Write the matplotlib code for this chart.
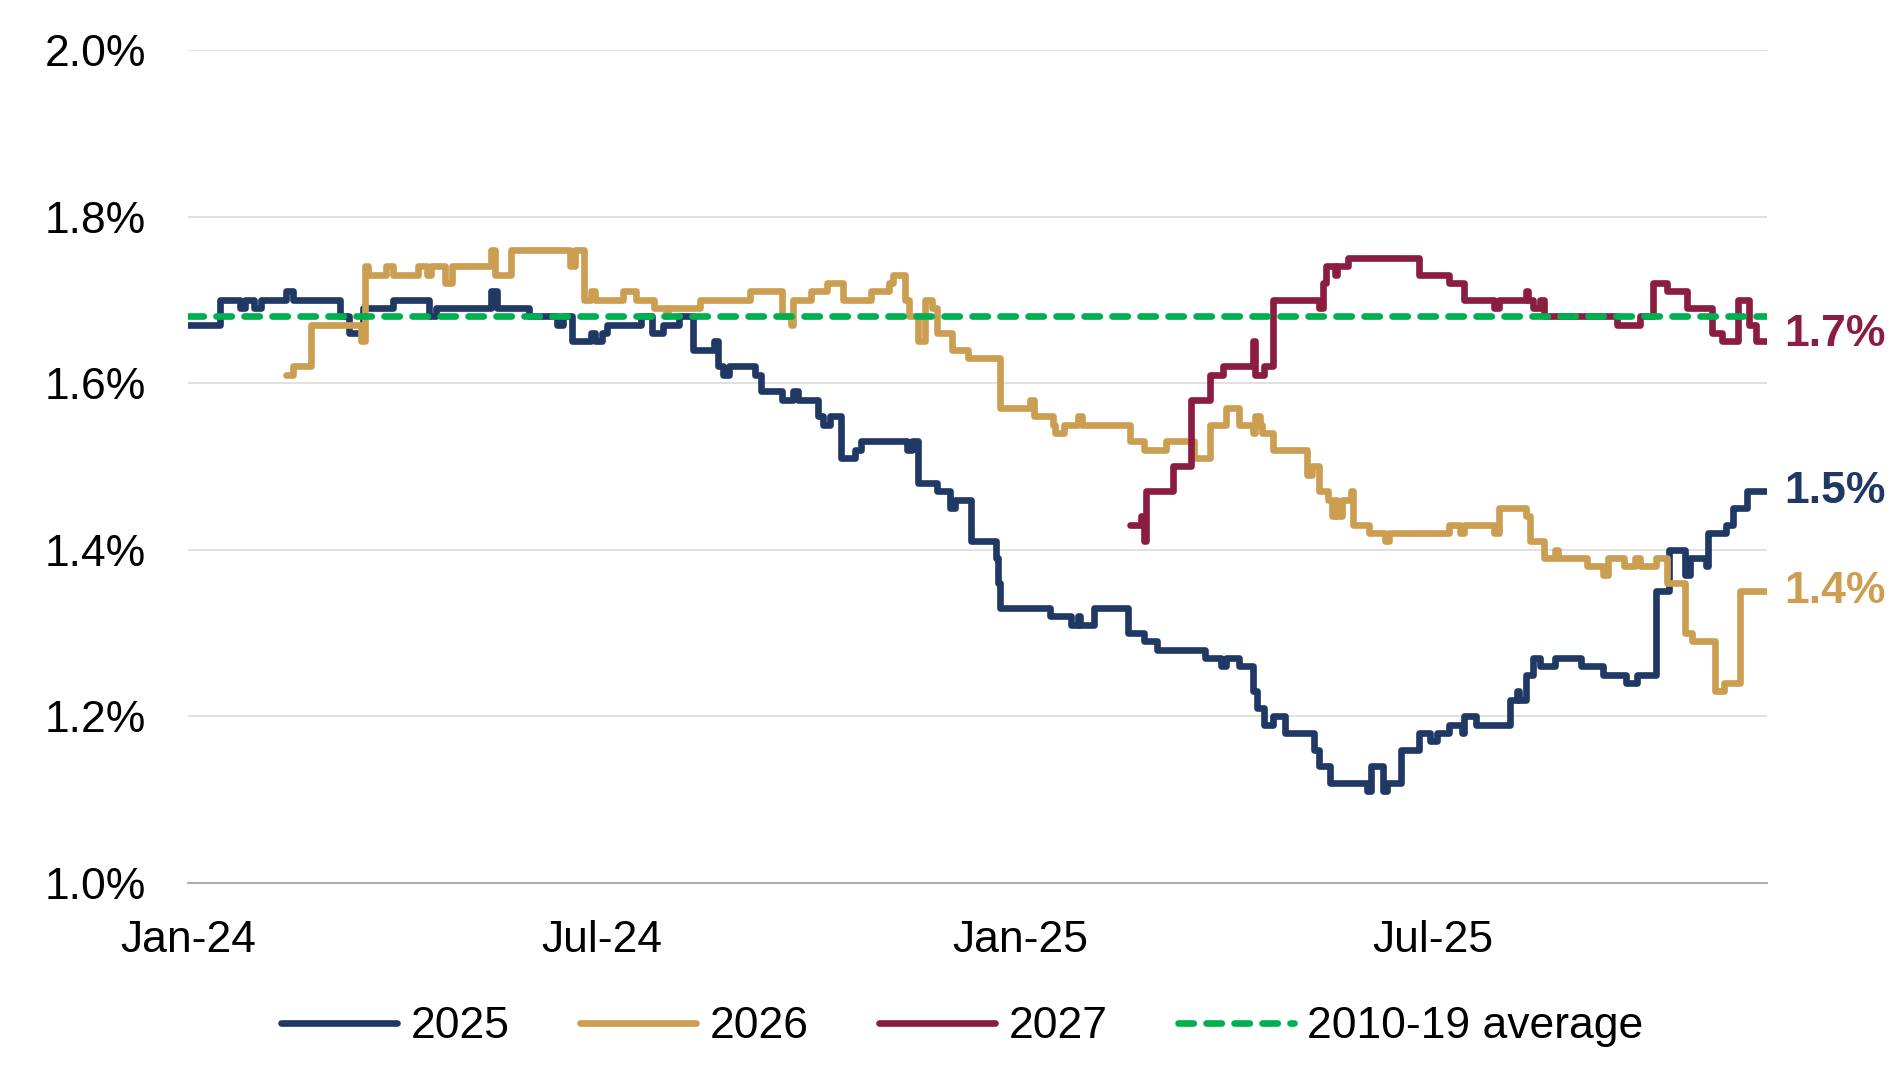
import matplotlib
matplotlib.use("Agg")
import matplotlib.pyplot as plt
import matplotlib.dates as mdates
import pandas as pd

plt.rcParams['font.family'] = ['Liberation Sans', 'DejaVu Sans']

# days after 1 Jan 2024 where each series changes level, and the new level (%)
days_2025 = [0, 14, 23, 25, 29, 32, 43, 46, 67, 71, 77, 90, 106, 109, 133, 136, 150, 162, 165, 169,
             177, 179, 182, 184, 199, 204, 209, 216, 222, 231, 233, 235, 238, 249, 252, 261, 266, 268,
             277, 279, 282, 287, 293, 296, 316, 318, 321, 329, 335, 337, 344, 355, 356, 357, 379, 388,
             391, 392, 398, 413, 420, 426, 447, 454, 456, 462, 468, 470, 473, 477, 482, 495, 497, 502,
             518, 520, 525, 527, 533, 541, 546, 549, 554, 560, 561, 566, 581, 584, 585, 588, 591, 594,
             601, 612, 622, 632, 637, 645, 651, 658, 660, 667, 668, 676, 679, 685, 694]
vals_2025 = [1.67, 1.70, 1.69, 1.70, 1.69, 1.70, 1.71, 1.70, 1.68, 1.66, 1.69, 1.70, 1.68, 1.69, 1.71,
             1.69, 1.68, 1.67, 1.68, 1.65, 1.66, 1.65, 1.66, 1.67, 1.68, 1.66, 1.67, 1.68, 1.64, 1.65,
             1.62, 1.61, 1.62, 1.61, 1.59, 1.58, 1.59, 1.58, 1.56, 1.55, 1.56, 1.51, 1.52, 1.53, 1.52,
             1.53, 1.48, 1.47, 1.45, 1.46, 1.41, 1.39, 1.36, 1.33, 1.32, 1.31, 1.32, 1.31, 1.33, 1.30,
             1.29, 1.28, 1.27, 1.26, 1.27, 1.26, 1.23, 1.21, 1.19, 1.20, 1.18, 1.16, 1.14, 1.12, 1.11,
             1.14, 1.11, 1.12, 1.16, 1.18, 1.17, 1.18, 1.19, 1.18, 1.20, 1.19, 1.22, 1.23, 1.22, 1.25,
             1.27, 1.26, 1.27, 1.26, 1.25, 1.24, 1.25, 1.35, 1.40, 1.37, 1.39, 1.38, 1.42, 1.43, 1.45,
             1.47, 1.47]

days_2026 = [43, 46, 54, 76, 78, 79, 87, 90, 101, 105, 107, 113, 116, 133, 135, 142, 168, 170, 174,
             177, 179, 191, 197, 205, 210, 211, 225, 247, 261, 265, 266, 274, 281, 288, 300, 308, 310,
             315, 317, 321, 324, 327, 329, 336, 343, 357, 370, 372, 380, 381, 385, 391, 393, 414, 420,
             430, 442, 449, 456, 462, 468, 469, 471, 472, 477, 492, 494, 497, 501, 503, 504, 505, 507,
             511, 512, 519, 526, 528, 554, 559, 561, 574, 576, 588, 590, 596, 601, 602, 615, 622, 624,
             631, 636, 638, 645, 650, 658, 661, 671, 675, 682, 694]
vals_2026 = [1.61, 1.62, 1.67, 1.65, 1.74, 1.73, 1.74, 1.73, 1.74, 1.73, 1.74, 1.72, 1.74, 1.76, 1.73,
             1.76, 1.74, 1.76, 1.70, 1.71, 1.70, 1.71, 1.70, 1.69, 1.68, 1.69, 1.70, 1.71, 1.68, 1.67,
             1.70, 1.71, 1.72, 1.70, 1.71, 1.72, 1.73, 1.70, 1.68, 1.65, 1.70, 1.69, 1.66, 1.64, 1.63,
             1.57, 1.58, 1.56, 1.55, 1.54, 1.55, 1.56, 1.55, 1.53, 1.52, 1.53, 1.51, 1.55, 1.57, 1.55,
             1.54, 1.56, 1.55, 1.54, 1.52, 1.49, 1.50, 1.47, 1.46, 1.44, 1.46, 1.44, 1.46, 1.47, 1.43,
             1.42, 1.41, 1.42, 1.43, 1.42, 1.43, 1.42, 1.45, 1.44, 1.41, 1.39, 1.40, 1.39, 1.38, 1.37,
             1.39, 1.38, 1.39, 1.38, 1.39, 1.36, 1.30, 1.29, 1.23, 1.24, 1.35, 1.35]

days_2027 = [414, 419, 420, 421, 433, 441, 449, 455, 468, 469, 473, 477, 497, 499, 500, 504, 505, 510,
             541, 554, 561, 574, 576, 588, 589, 591, 594, 596, 628, 638, 644, 650, 659, 670, 674, 681,
             686, 689, 694]
vals_2027 = [1.43, 1.44, 1.41, 1.47, 1.50, 1.58, 1.61, 1.62, 1.65, 1.61, 1.62, 1.70, 1.69, 1.72, 1.74,
             1.73, 1.74, 1.75, 1.73, 1.72, 1.70, 1.69, 1.70, 1.71, 1.70, 1.69, 1.70, 1.68, 1.67, 1.68,
             1.72, 1.71, 1.69, 1.66, 1.65, 1.70, 1.67, 1.65, 1.65]

avg_2010_19 = 1.68
end_labels = ['1.5%', '1.4%', '1.7%']
xtick_dates = ['2024-01-01', '2024-07-01', '2025-01-01', '2025-07-01']

start = pd.Timestamp('2024-01-01')


def to_dates(days):
    return start + pd.to_timedelta(days, unit='D')


series = [
    ('2025', days_2025, vals_2025, '#1f3864'),
    ('2026', days_2026, vals_2026, '#cc9e52'),
    ('2027', days_2027, vals_2027, '#8b1e40'),
]

fig = plt.figure(figsize=(19.04, 10.9), dpi=100)
ax = fig.add_axes([0.0987, 0.19, 0.8294, 0.7642])

lw = 4.8
for name, d, v, c in series:
    ax.plot(to_dates(d), v, color=c, lw=lw, drawstyle='steps-post',
            solid_joinstyle='round', solid_capstyle='round', label=name)

x0 = start
x1 = to_dates([days_2025[-1]])[0]
ax.plot([x0, x1], [avg_2010_19, avg_2010_19], color='#00b050', lw=lw,
        dashes=(2.3, 1.9), dash_capstyle='round', label='2010-19 average')

# end labels (the 1.7% one sits a little above its line end)
label_dy = [0, 0, 5]
for (name, d, v, c), lab, dy in zip(series, end_labels, label_dy):
    ax.annotate(lab, xy=(to_dates([d[-1]])[0], v[-1]), xytext=(12, dy),
                textcoords='offset points', va='center', ha='left',
                fontsize=32, fontweight='bold', color=c, annotation_clip=False)

ax.set_xlim(x0, x1)
ax.set_ylim(1.0, 2.0)
ax.set_yticks([1.0, 1.2, 1.4, 1.6, 1.8, 2.0])
ax.yaxis.set_major_formatter(plt.FuncFormatter(lambda y, p: f'{y:.1f}%'))
ax.set_xticks(pd.to_datetime(xtick_dates))
ax.xaxis.set_major_formatter(mdates.DateFormatter('%b-%y'))

ax.grid(axis='y', color='#d9d9d9', lw=1.1)
ax.set_axisbelow(True)
for s in ['top', 'right', 'left']:
    ax.spines[s].set_visible(False)
ax.spines['bottom'].set_color('#a6a6a6')
ax.spines['bottom'].set_linewidth(1.3)
ax.tick_params(axis='both', length=0, labelsize=32, colors='black')
ax.tick_params(axis='y', pad=30)
ax.tick_params(axis='x', pad=27)

handles, labels = ax.get_legend_handles_labels()
fig.legend(handles, labels, loc='center', bbox_to_anchor=(0.5055, 0.058), ncol=4,
           frameon=False, fontsize=32, handlelength=2.6, handletextpad=0.3,
           columnspacing=1.6)

fig.savefig('out.png', dpi=100)
